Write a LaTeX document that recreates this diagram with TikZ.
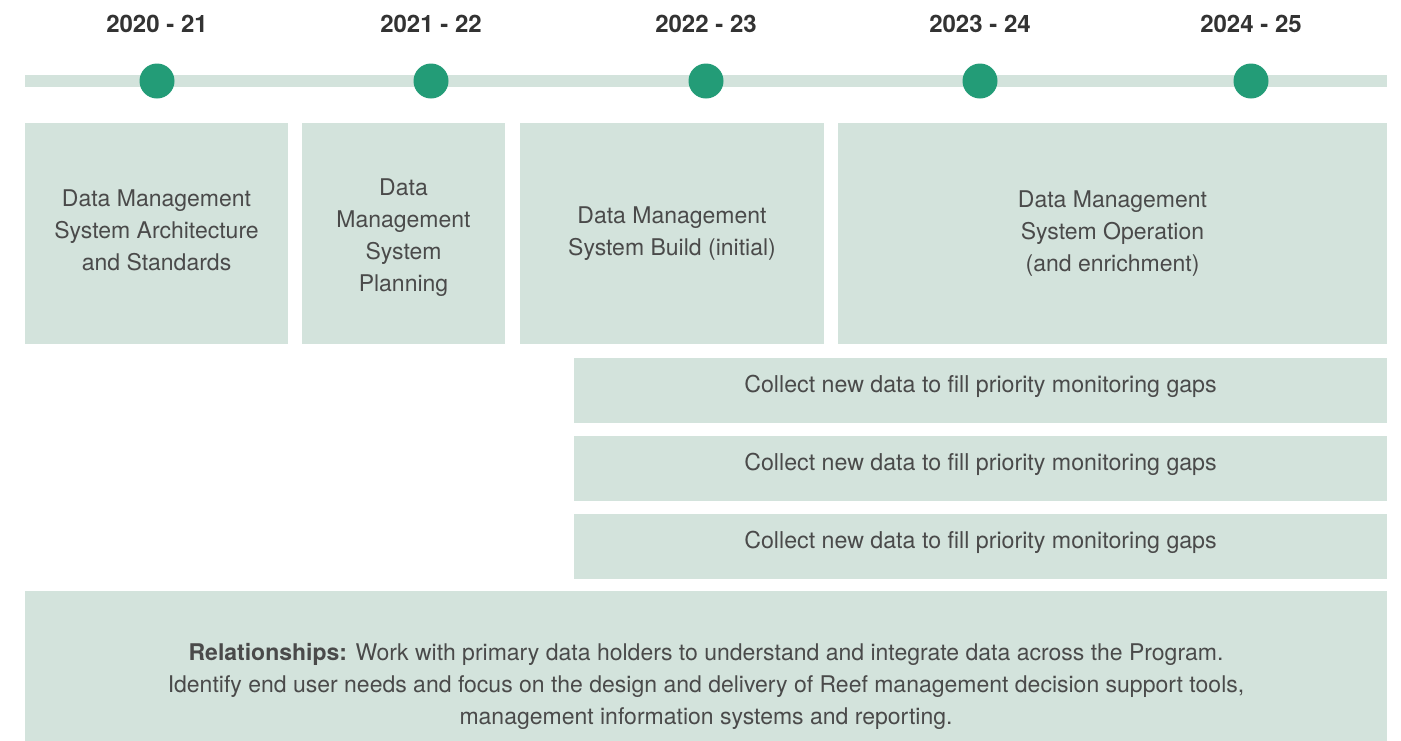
\documentclass[tikz,border=0pt]{standalone}
\usepackage{fontspec}
\setmainfont{TeX Gyre Heros}
\definecolor{boxfill}{HTML}{D3E3DC}
\definecolor{dotgreen}{HTML}{239C77}
\definecolor{bodytxt}{HTML}{4A4A4A}
\definecolor{yeartxt}{HTML}{333333}
\begin{document}
\begin{tikzpicture}[x=1pt,y=-1pt,
    year/.style={font=\fontsize{24}{28}\selectfont\bfseries,text=yeartxt},
    dot/.style={circle,fill=dotgreen,minimum size=35pt,inner sep=0pt},
    bar/.style={draw=boxfill,line width=12pt},
    phase/.style={rectangle,fill=boxfill,inner sep=0pt,minimum height=221pt,
      align=center,text=bodytxt,font=\fontsize{23}{32}\selectfont},
    task/.style={rectangle,fill=boxfill,inner sep=0pt,minimum width=813pt,
      minimum height=65pt,text height=16.5pt,text depth=13pt,
      text=bodytxt,font=\fontsize{23.2}{32}\selectfont},
    note/.style={rectangle,fill=boxfill,inner sep=0pt,minimum width=1362pt,
      minimum height=190pt,align=center,text=bodytxt,font=\fontsize{23}{32}\selectfont}]
          \clip (0,0) rectangle (1401,740);
          % timeline
          \coordinate (barL) at (25,81);
          \coordinate (barR) at (1387,81);
          \path[bar] (barL) edge (barR);
          \node[dot] at (157,81) (d1) {};
          \node[dot] at (431,81) (d2) {};
          \node[dot] at (706,81) (d3) {};
          \node[dot] at (980,81) (d4) {};
          \node[dot] at (1251,81) (d5) {};
          \node[year] at (157,24) (y1) {2020 - 21};
          \node[year] at (431,24) (y2) {2021 - 22};
          \node[year] at (706,24) (y3) {2022 - 23};
          \node[year] at (980,24) (y4) {2023 - 24};
          \node[year] at (1251,24) (y5) {2024 - 25};
          % phases
          \node[phase,minimum width=263pt] at (156.5,233.5) (arch) {Data Management\\System Architecture\\and Standards\rule[-6pt]{0pt}{0pt}};
          \node[phase,minimum width=203pt] at (403.5,233.5) (plan) {\rule{0pt}{24.5pt}Data\\Management\\System\\Planning};
          \node[phase,minimum width=304pt] at (672,233.5) (build) {Data Management\\System Build (initial)};
          \node[phase,minimum width=549pt] at (1112.5,233.5) (oper) {Data Management\\System Operation\\(and enrichment)};
          % data collection
          \node[task] at (980.5,390.5) (gap1) {Collect new data to fill priority monitoring gaps};
          \node[task] at (980.5,468.5) (gap2) {Collect new data to fill priority monitoring gaps};
          \node[task] at (980.5,546.5) (gap3) {Collect new data to fill priority monitoring gaps};
          % relationships
          \node[note] at (706,686) (rel) {\textbf{Relationships:} Work with primary data holders to understand and integrate data across the Program.\\Identify end user needs and focus on the design and delivery of Reef management decision support tools,\\management information systems and reporting.};
        \end{tikzpicture}
\end{document}
